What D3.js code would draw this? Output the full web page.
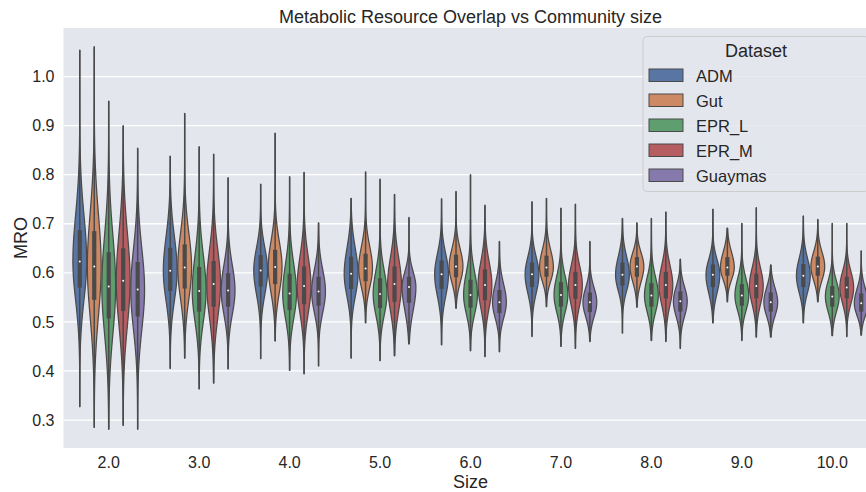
<!DOCTYPE html>
<html>
<head>
<meta charset="utf-8">
<script src="https://cdn.jsdelivr.net/npm/d3@7"></script>
<style>
  html, body { margin: 0; padding: 0; background: #ffffff; }
  svg { display: block; font-family: "Liberation Sans", Arial, sans-serif; }
</style>
</head>
<body>
<svg id="chart" width="866" height="492"></svg>
<script>
// Community sizes on the x axis and the datasets drawn side by side in each group
const sizes = ["2.0", "3.0", "4.0", "5.0", "6.0", "7.0", "8.0", "9.0", "10.0"];
const datasets = ["ADM", "Gut", "EPR_L", "EPR_M", "Guaymas"];
const baseColors = ["#4c72b0", "#dd8452", "#55a868", "#c44e52", "#8172b3"];
const yTicks = [0.3, 0.4, 0.5, 0.6, 0.7, 0.8, 0.9, 1.0];

// MRO distribution summaries: one row per dataset, one column per size
const mroLow = [
  [0.327, 0.405, 0.425, 0.426, 0.453, 0.470, 0.477, 0.498, 0.498],
  [0.285, 0.426, 0.461, 0.498, 0.528, 0.531, 0.530, 0.541, 0.541],
  [0.281, 0.363, 0.401, 0.421, 0.441, 0.450, 0.462, 0.462, 0.472],
  [0.289, 0.375, 0.394, 0.431, 0.429, 0.446, 0.460, 0.469, 0.470],
  [0.281, 0.404, 0.410, 0.455, 0.439, 0.460, 0.446, 0.469, 0.473]
];
const mroQ1 = [
  [0.570, 0.563, 0.572, 0.567, 0.567, 0.571, 0.574, 0.571, 0.571],
  [0.545, 0.568, 0.577, 0.583, 0.591, 0.592, 0.592, 0.594, 0.594],
  [0.507, 0.521, 0.524, 0.528, 0.529, 0.531, 0.531, 0.533, 0.531],
  [0.522, 0.531, 0.536, 0.541, 0.544, 0.547, 0.548, 0.548, 0.548],
  [0.511, 0.531, 0.533, 0.539, 0.518, 0.520, 0.521, 0.521, 0.521]
];
const mroMedian = [
  [0.623, 0.604, 0.605, 0.598, 0.597, 0.597, 0.596, 0.596, 0.594],
  [0.613, 0.611, 0.612, 0.609, 0.613, 0.611, 0.613, 0.611, 0.613],
  [0.572, 0.563, 0.558, 0.557, 0.555, 0.555, 0.554, 0.554, 0.552],
  [0.584, 0.577, 0.573, 0.577, 0.575, 0.575, 0.575, 0.573, 0.570],
  [0.566, 0.564, 0.562, 0.571, 0.540, 0.540, 0.542, 0.540, 0.538]
];
const mroQ3 = [
  [0.687, 0.651, 0.636, 0.633, 0.625, 0.621, 0.621, 0.617, 0.618],
  [0.685, 0.658, 0.647, 0.639, 0.637, 0.635, 0.632, 0.632, 0.633],
  [0.642, 0.612, 0.598, 0.589, 0.586, 0.581, 0.579, 0.577, 0.573],
  [0.650, 0.624, 0.613, 0.613, 0.607, 0.602, 0.602, 0.598, 0.592],
  [0.622, 0.599, 0.592, 0.592, 0.565, 0.560, 0.562, 0.560, 0.558]
];
const mroHigh = [
  [1.054, 0.838, 0.781, 0.752, 0.751, 0.745, 0.711, 0.730, 0.716],
  [1.061, 0.925, 0.885, 0.806, 0.766, 0.752, 0.702, 0.691, 0.709],
  [0.950, 0.857, 0.796, 0.791, 0.800, 0.732, 0.711, 0.701, 0.701],
  [0.900, 0.842, 0.805, 0.760, 0.738, 0.740, 0.724, 0.733, 0.701],
  [0.854, 0.794, 0.702, 0.713, 0.664, 0.664, 0.628, 0.616, 0.645]
];

const W = 866, H = 492;
const margin = { left: 63.5, right: -11.5, top: 28, bottom: 44 };
const plotRight = W - margin.right;        // the axes run slightly past the canvas edge
const plotBottom = H - margin.bottom;
const bg = "#e4e6ee";
const ink = "#262626";
const edge = "#4a4a4a";

// muted fills, as violins are drawn with reduced saturation
const fills = baseColors.map(c => { const h = d3.hsl(c); h.s *= 0.75; return h.formatHex(); });

const svg = d3.select("#chart");

const x = d3.scaleBand().domain(sizes).range([margin.left, plotRight]).padding(0);
const hue = d3.scaleBand().domain(datasets).range([-0.4 * x.bandwidth(), 0.4 * x.bandwidth()]);
const y = d3.scaleLinear().domain([0.243, 1.099]).range([plotBottom, margin.top]);

// axes background
svg.append("rect")
  .attr("x", margin.left).attr("y", margin.top)
  .attr("width", plotRight - margin.left).attr("height", plotBottom - margin.top)
  .attr("fill", bg);

// horizontal grid
svg.append("g").selectAll("line").data(yTicks).join("line")
  .attr("x1", margin.left).attr("x2", plotRight)
  .attr("y1", d => y(d)).attr("y2", d => y(d))
  .attr("stroke", "#ffffff").attr("stroke-width", 1.3);

// violins
const maxHalf = 6.9;
const area = d3.area().curve(d3.curveBasis)
  .y(d => y(d.v)).x0(d => d.cx - d.w).x1(d => d.cx + d.w);

const plot = svg.append("g");
datasets.forEach((ds, di) => {
  sizes.forEach((s, si) => {
    const lo = mroLow[di][si], q1 = mroQ1[di][si], md = mroMedian[di][si];
    const q3 = mroQ3[di][si], hi = mroHigh[di][si];
    const cx = x(s) + x.bandwidth() / 2 + hue(ds) + hue.bandwidth() / 2;
    // split-normal outline: spread below/above the median follows the quartiles
    const sLo = (md - q1) / 0.6745, sHi = (q3 - md) / 0.6745;
    const n = 90;
    const pts = d3.range(n + 1).map(i => {
      const v = lo + (hi - lo) * i / n;
      const z = v < md ? (md - v) / sLo : (v - md) / sHi;
      return { v, cx, w: maxHalf * Math.exp(-0.5 * z * z) };
    });
    const g = plot.append("g");
    g.append("path").attr("d", area(pts))
      .attr("fill", fills[di]).attr("stroke", edge).attr("stroke-width", 1.25)
      .attr("stroke-linejoin", "round");
    // inner box: whisker, interquartile bar, median dot
    g.append("line").attr("x1", cx).attr("x2", cx).attr("y1", y(lo)).attr("y2", y(hi))
      .attr("stroke", edge).attr("stroke-width", 1.5);
    g.append("line").attr("x1", cx).attr("x2", cx).attr("y1", y(q1)).attr("y2", y(q3))
      .attr("stroke", edge).attr("stroke-width", 4.2);
    g.append("circle").attr("cx", cx).attr("cy", y(md)).attr("r", 1.0).attr("fill", "#ffffff");
  });
});

// axes
const xAxis = svg.append("g").attr("transform", `translate(0,${plotBottom})`)
  .call(d3.axisBottom(x).tickSize(0).tickPadding(9));
const yAxis = svg.append("g").attr("transform", `translate(${margin.left},0)`)
  .call(d3.axisLeft(y).tickValues(yTicks).tickFormat(d3.format(".1f")).tickSize(0).tickPadding(9));
[xAxis, yAxis].forEach(a => {
  a.select(".domain").remove();
  a.selectAll("text").attr("fill", ink).style("font-size", "16px")
    .style("font-family", "'Liberation Sans', Arial, sans-serif");
});

// titles
const cxAxes = (margin.left + plotRight) / 2;
svg.append("text").attr("x", cxAxes).attr("y", 22.5).attr("text-anchor", "middle")
  .attr("fill", ink).style("font-size", "18px").text("Metabolic Resource Overlap vs Community size");
svg.append("text").attr("x", cxAxes).attr("y", 488).attr("text-anchor", "middle")
  .attr("fill", ink).style("font-size", "18px").text("Size");
svg.append("text").attr("transform", `translate(27,${(margin.top + plotBottom) / 2}) rotate(-90)`)
  .attr("text-anchor", "middle").attr("fill", ink).style("font-size", "18px").text("MRO");

// legend
const lg = svg.append("g").attr("transform", "translate(643,36.5)");
lg.append("rect").attr("x", 0).attr("y", 0).attr("width", 226).attr("height", 155)
  .attr("rx", 4).attr("fill", bg).attr("fill-opacity", 0.8)
  .attr("stroke", "#cccccc").attr("stroke-width", 1);
lg.append("text").attr("x", 113).attr("y", 20.5).attr("text-anchor", "middle")
  .attr("fill", ink).style("font-size", "18px").text("Dataset");
datasets.forEach((ds, i) => {
  const row = lg.append("g").attr("transform", `translate(0,${32.5 + i * 25})`);
  row.append("rect").attr("x", 6).attr("y", 0).attr("width", 34).attr("height", 12.5)
    .attr("fill", fills[i]).attr("stroke", edge).attr("stroke-width", 1);
  row.append("text").attr("x", 53).attr("y", 12.5).attr("fill", ink)
    .style("font-size", "16.5px").text(ds);
});
</script>
</body>
</html>
